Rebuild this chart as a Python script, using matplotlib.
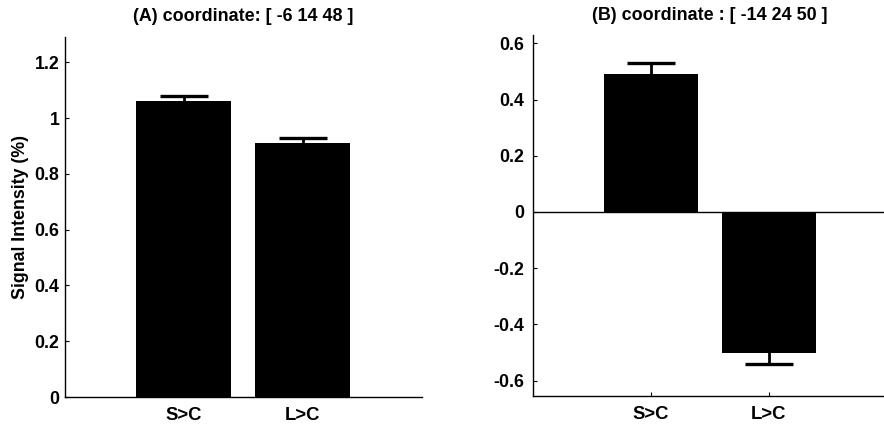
import matplotlib
matplotlib.use("Agg")
import matplotlib.pyplot as plt

# values
conditions = ["S>C", "L>C"]
vals_a = [1.061, 0.909]
err_a = [0.019, 0.018]
vals_b = [0.491, -0.503]
err_b = [0.038, 0.039]

plt.rcParams["font.family"] = ["Liberation Sans", "DejaVu Sans"]
plt.rcParams["font.weight"] = "bold"
plt.rcParams["font.size"] = 12.8

fig = plt.figure(figsize=(8.84, 4.30), dpi=100)
ax1 = fig.add_axes([0.0735, 0.0767, 0.4035, 0.838])
ax2 = fig.add_axes([0.6026, 0.0791, 0.4008, 0.8395])


def draw_panel(ax, vals, errs, title):
    x = [1, 2]
    ax.bar(x, vals, width=0.8, color="black", zorder=2)
    # symmetric bars; the half inside the bar is hidden by the black fill
    ax.errorbar(x, vals, yerr=errs, fmt="none", ecolor="black",
                elinewidth=2, capsize=17, capthick=2.4, zorder=1.5)
    ax.set_xlim(0, 3)
    ax.set_xticks(x)
    ax.set_xticklabels(conditions, fontweight="bold", fontsize=13.3)
    ax.spines["top"].set_visible(False)
    ax.spines["right"].set_visible(False)
    ax.spines["left"].set_linewidth(1)
    ax.spines["bottom"].set_linewidth(1)
    ax.tick_params(direction="in", length=3, width=0.8)
    ax.tick_params(axis="y", pad=4)
    ax.tick_params(axis="x", pad=7)
    ax.set_title(title, fontweight="bold", fontsize=12.9, pad=11)


draw_panel(ax1, vals_a, err_a, "(A) coordinate: [ -6 14 48 ]")
ax1.set_ylim(0, 1.292)
ax1.set_yticks([0, 0.2, 0.4, 0.6, 0.8, 1.0, 1.2])
ax1.set_yticklabels(["0", "0.2", "0.4", "0.6", "0.8", "1", "1.2"])
ax1.set_ylabel("Signal Intensity (%)", fontweight="bold", labelpad=4)

draw_panel(ax2, vals_b, err_b, "(B) coordinate : [ -14 24 50 ]")
ax2.axhline(0, color="black", linewidth=1, zorder=1)
ax2.set_ylim(-0.655, 0.63)
ax2.set_yticks([-0.6, -0.4, -0.2, 0, 0.2, 0.4, 0.6])
ax2.set_yticklabels(["-0.6", "-0.4", "-0.2", "0", "0.2", "0.4", "0.6"])
ax2.tick_params(axis="y", pad=6)

fig.savefig("out.png", dpi=100)
